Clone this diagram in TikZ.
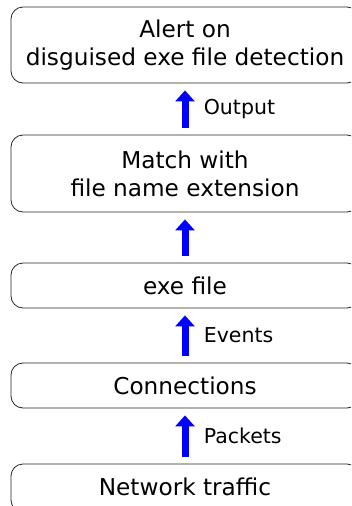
\documentclass[tikz,border=0pt]{standalone}
\usepackage{fontspec}
\setmainfont{DejaVu Sans}
\usetikzlibrary{arrows.meta}
\begin{document}
\begin{tikzpicture}[x=1pt,y=-1pt,
  box/.style={draw=black!85,line width=0.8pt,rounded corners=12pt,minimum width=348pt,
    align=center,inner sep=0pt,font=\fontsize{23.2}{28}\selectfont},
  flow/.style={draw=blue,line width=7pt,-{Triangle[width=19pt,length=11pt]},shorten <=7pt,shorten >=7pt},
  lbl/.style={font=\fontsize{20.5}{24}\selectfont,anchor=west}]
\useasboundingbox (0,0) rectangle (351,506);
\clip (0,0) rectangle (351,506);
\node[box,minimum height=76pt] (b1) at (185,45) {Alert on\\disguised exe file detection};
\node[box,minimum height=77pt] (b2) at (185,173.5) {Match with\\file name extension};
\node[box,minimum height=45pt] (b3) at (185,285.5) {exe file};
\node[box,minimum height=45pt] (b4) at (185,385.5) {Connections};
\node[box,minimum height=48pt] (b5) at (185,488) {};
\node[font=\fontsize{23.2}{28}\selectfont] (t5) at (185,486.5) {Network traffic};
\draw[flow] (b2.north) -- (b1.south) node[midway,right=12pt,lbl] (l1) {Output};
\draw[flow] (b3.north) -- (b2.south);
\draw[flow] (b4.north) -- (b3.south) node[midway,right=12pt,lbl] (l3) {Events};
\draw[flow] (b5.north) -- (b4.south) node[midway,right=12pt,lbl] (l4) {Packets};
\end{tikzpicture}
\end{document}
